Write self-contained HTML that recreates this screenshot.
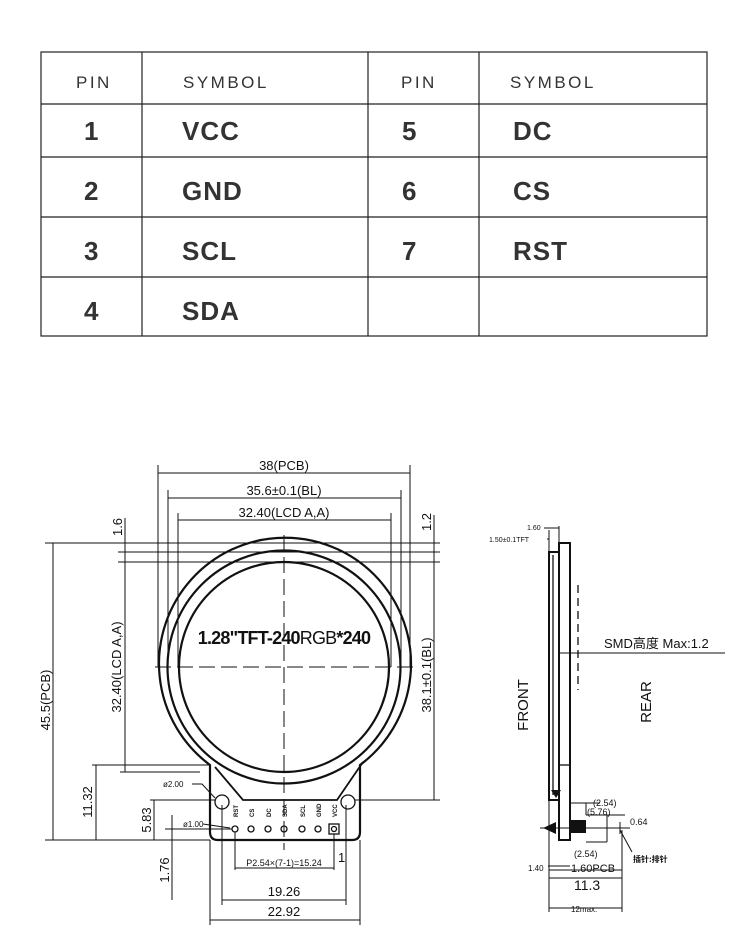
<!DOCTYPE html>
<html><head><meta charset="utf-8"><style>
body{margin:0;background:#fff;width:750px;height:934px;overflow:hidden;font-family:"Liberation Sans","Noto Sans CJK SC",sans-serif}
svg{position:absolute;left:0;top:0}
</style></head><body>
<svg width="750" height="934" viewBox="0 0 750 934" xmlns="http://www.w3.org/2000/svg">
<g stroke="#222" stroke-width="1.2" fill="none">
<rect x="41" y="52" width="666" height="284"/>
<line x1="41" y1="104" x2="707" y2="104"/><line x1="41" y1="157" x2="707" y2="157"/>
<line x1="41" y1="217" x2="707" y2="217"/><line x1="41" y1="277" x2="707" y2="277"/>
<line x1="142" y1="52" x2="142" y2="336"/><line x1="368" y1="52" x2="368" y2="336"/><line x1="479" y1="52" x2="479" y2="336"/>
</g>
<g font-family="Liberation Sans, sans-serif" fill="#222">
<g font-size="17" letter-spacing="2.5" fill="#333">
<text x="76" y="88">PIN</text><text x="183" y="88">SYMBOL</text><text x="401" y="88">PIN</text><text x="510" y="88">SYMBOL</text></g>
<g font-size="26" letter-spacing="1" font-weight="bold" fill="#333">
<text x="84" y="140">1</text><text x="182" y="140">VCC</text><text x="402" y="140">5</text><text x="513" y="140">DC</text>
<text x="84" y="200">2</text><text x="182" y="200">GND</text><text x="402" y="200">6</text><text x="513" y="200">CS</text>
<text x="84" y="260">3</text><text x="182" y="260">SCL</text><text x="402" y="260">7</text><text x="513" y="260">RST</text>
<text x="84" y="320">4</text><text x="182" y="320">SDA</text></g>
</g>
<g stroke="#111" stroke-width="1.3" fill="none">
<path d="M210 765 L210 832 Q210 840 218 840 L352 840 Q360 840 360 832 L360 765 A126 126 0 1 0 210 765 Z" stroke-width="2.2"/>
<circle cx="284" cy="667" r="116.5" stroke-width="2.2"/>
<circle cx="284" cy="667" r="105" stroke-width="2.2"/>
<path d="M215 767 L243 800 L337 800 L363 762" stroke-width="1.8"/>
<circle cx="222" cy="802" r="7"/><circle cx="348" cy="802" r="7"/>
<circle cx="235" cy="829" r="3"/><circle cx="251" cy="829" r="3"/><circle cx="268" cy="829" r="3"/><circle cx="284" cy="829" r="3"/><circle cx="302" cy="829" r="3"/><circle cx="318" cy="829" r="3"/><rect x="329" y="824" width="10" height="10"/><circle cx="334" cy="829" r="2.5"/>
<line x1="284" y1="535" x2="284" y2="850" stroke-dasharray="16 6" stroke-width="1"/>
<line x1="155" y1="667" x2="415" y2="667" stroke-dasharray="16 6" stroke-width="1"/>
<g stroke-width="1">
<line x1="158" y1="465" x2="158" y2="667"/><line x1="410" y1="465" x2="410" y2="667"/>
<line x1="158" y1="473" x2="410" y2="473"/>
<line x1="168" y1="490" x2="168" y2="667"/><line x1="401" y1="490" x2="401" y2="667"/>
<line x1="168" y1="498" x2="401" y2="498"/>
<line x1="178" y1="513" x2="178" y2="667"/><line x1="391" y1="513" x2="391" y2="667"/>
<line x1="178" y1="520" x2="391" y2="520"/>
<line x1="45" y1="543" x2="440" y2="543"/><line x1="118" y1="552" x2="440" y2="552"/><line x1="118" y1="562" x2="440" y2="562"/>
<line x1="53" y1="543" x2="53" y2="840"/><line x1="125" y1="518" x2="125" y2="772"/><line x1="120" y1="772" x2="200" y2="772"/>
<line x1="45" y1="840" x2="210" y2="840"/><line x1="92" y1="765" x2="210" y2="765"/><line x1="96" y1="765" x2="96" y2="840"/>
<line x1="150" y1="800" x2="215" y2="800"/><line x1="154" y1="800" x2="154" y2="840"/>
<line x1="172" y1="815" x2="172" y2="900"/><line x1="165" y1="829" x2="232" y2="829"/>
<line x1="434" y1="515" x2="434" y2="800"/><line x1="355" y1="800" x2="440" y2="800"/>
<line x1="222" y1="805" x2="222" y2="905"/><line x1="346" y1="805" x2="346" y2="905"/>
<line x1="210" y1="840" x2="210" y2="925"/><line x1="360" y1="840" x2="360" y2="925"/>
<line x1="222" y1="900" x2="346" y2="900"/><line x1="210" y1="920" x2="360" y2="920"/>
<line x1="235" y1="832" x2="235" y2="870"/><line x1="334" y1="834" x2="334" y2="870"/><line x1="235" y1="868" x2="334" y2="868"/>
<path d="M192 784 L202 784 L215 798"/><path d="M203 824 L230 828"/>
</g>
</g>
<g fill="#111" font-family="Liberation Sans, sans-serif">
<text x="284" y="470" font-size="13" text-anchor="middle">38(PCB)</text>
<text x="284" y="495" font-size="13" text-anchor="middle">35.6±0.1(BL)</text>
<text x="284" y="517" font-size="13" text-anchor="middle">32.40(LCD A,A)</text>
<text x="284" y="644" font-size="18" font-weight="bold" text-anchor="middle" letter-spacing="-0.8">1.28"TFT-240<tspan font-weight="normal">RGB</tspan>*240</text>
<text transform="translate(50,700) rotate(-90)" font-size="13" text-anchor="middle">45.5(PCB)</text>
<text transform="translate(121,667) rotate(-90)" font-size="13" text-anchor="middle">32.40(LCD A,A)</text>
<text transform="translate(122,527) rotate(-90)" font-size="13" text-anchor="middle">1.6</text>
<text transform="translate(92,802) rotate(-90)" font-size="13" text-anchor="middle">11.32</text>
<text transform="translate(151,820) rotate(-90)" font-size="13" text-anchor="middle">5.83</text>
<text transform="translate(169,870) rotate(-90)" font-size="13" text-anchor="middle">1.76</text>
<text transform="translate(431,522) rotate(-90)" font-size="13" text-anchor="middle">1.2</text>
<text transform="translate(431,675) rotate(-90)" font-size="13" text-anchor="middle">38.1±0.1(BL)</text>
<text x="284" y="896" font-size="13" text-anchor="middle">19.26</text>
<text x="284" y="916" font-size="13" text-anchor="middle">22.92</text>
<text x="284" y="866" font-size="9" text-anchor="middle">P2.54×(7-1)=15.24</text>
<text x="338" y="862" font-size="13">1</text>
<text x="163" y="787" font-size="8">ø2.00</text>
<text x="183" y="827" font-size="8">ø1.00</text>
<g font-size="6" font-weight="bold"><text transform="translate(238,817) rotate(-90)">RST</text><text transform="translate(254,817) rotate(-90)">CS</text><text transform="translate(271,817) rotate(-90)">DC</text><text transform="translate(287,817) rotate(-90)">SDA</text><text transform="translate(305,817) rotate(-90)">SCL</text><text transform="translate(321,817) rotate(-90)">GND</text><text transform="translate(337,817) rotate(-90)">VCC</text></g>
</g>
<g stroke="#111" stroke-width="1.3" fill="none">
<rect x="549" y="552" width="10" height="248" stroke-width="2"/>
<line x1="553" y1="555" x2="553" y2="795"/>
<rect x="559" y="543" width="11" height="297" stroke-width="2"/>
<line x1="559" y1="765" x2="570" y2="765"/>
<line x1="578" y1="585" x2="578" y2="690" stroke-dasharray="8 5"/>
<line x1="558" y1="653" x2="725" y2="653" stroke-width="1"/>
<g stroke-width="1">
<line x1="549" y1="530" x2="549" y2="552"/><line x1="559" y1="526" x2="559" y2="543"/>
<line x1="544" y1="528" x2="559" y2="528"/><line x1="547" y1="539" x2="549" y2="539"/>
<line x1="549" y1="800" x2="549" y2="912"/><line x1="622" y1="830" x2="622" y2="912"/>
<line x1="549" y1="870" x2="622" y2="870"/><line x1="549" y1="830" x2="549" y2="870"/>
<line x1="549" y1="878" x2="622" y2="878"/><line x1="549" y1="908" x2="622" y2="908"/>
<line x1="570" y1="803" x2="600" y2="803"/><line x1="586" y1="803" x2="586" y2="815"/>
<line x1="586" y1="815" x2="625" y2="815"/><line x1="607" y1="815" x2="607" y2="842"/>
<line x1="586" y1="842" x2="607" y2="842"/>
<line x1="540" y1="828" x2="630" y2="828"/><line x1="620" y1="822" x2="620" y2="834"/>
<line x1="620" y1="830" x2="632" y2="852"/>
<line x1="548" y1="866" x2="570" y2="866"/>
</g>
</g>
<rect x="570" y="820" width="16" height="13" fill="#111"/>
<path d="M551 790 L556 798 L561 790 Z M543 828 L556 822 L556 834 Z" fill="#111"/>
<g fill="#111" font-family="Liberation Sans, sans-serif">
<text x="527" y="530" font-size="7">1.60</text>
<text x="489" y="542" font-size="7">1.50±0.1TFT</text>
<text x="604" y="648" font-size="13">SMD<tspan font-family="Noto Sans CJK SC, sans-serif">高度</tspan>  Max:1.2</text>
<text transform="translate(528,705) rotate(-90)" font-size="15" text-anchor="middle">FRONT</text>
<text transform="translate(651,702) rotate(-90)" font-size="15" text-anchor="middle">REAR</text>
<text x="593" y="806" font-size="9">(2.54)</text>
<text x="587" y="815" font-size="9">(5.76)</text>
<text x="630" y="825" font-size="9">0.64</text>
<text x="574" y="857" font-size="9">(2.54)</text>
<text x="528" y="871" font-size="8">1.40</text>
<text x="571" y="872" font-size="11">1.60PCB</text>
<text x="574" y="890" font-size="14">11.3</text>
<text x="571" y="912" font-size="8">12max.</text>
<text x="633" y="862" font-size="8" font-weight="bold" font-family="Noto Sans CJK SC, sans-serif">插针:排针</text>
</g>
</svg>
</body></html>
